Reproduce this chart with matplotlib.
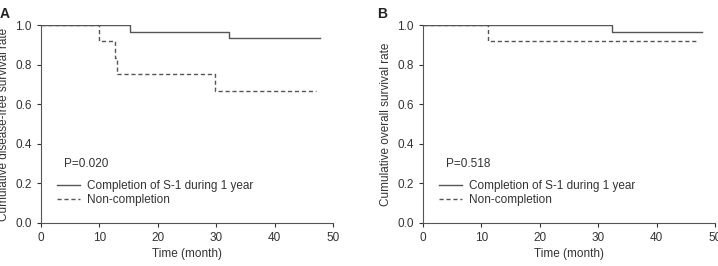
import matplotlib.pyplot as plt

plt.rcParams['font.family'] = ['Liberation Sans', 'DejaVu Sans']
plt.rcParams['font.size'] = 8.5

# A: disease-free survival
a_comp_t = [0, 15.2, 32.1, 47.8]
a_comp_s = [1.0, 0.967, 0.933, 0.933]
a_non_t = [0, 10.0, 12.7, 13.1, 29.8, 47.1]
a_non_s = [1.0, 0.917, 0.833, 0.75, 0.667, 0.667]

# B: overall survival
b_comp_t = [0, 32.3, 47.7]
b_comp_s = [1.0, 0.967, 0.967]
b_non_t = [0, 11.1, 47.0]
b_non_s = [1.0, 0.917, 0.917]

labels = ['Completion of S-1 during 1 year', 'Non-completion']
gray = '#555555'

fig = plt.figure(figsize=(7.18, 2.66), dpi=100)
axA = fig.add_axes([0.057, 0.162, 0.407, 0.744])
axB = fig.add_axes([0.589, 0.162, 0.407, 0.744])

panels = [
    (axA, a_comp_t, a_comp_s, a_non_t, a_non_s, 'Cumulative disease-free survival rate', 'P=0.020', 'A'),
    (axB, b_comp_t, b_comp_s, b_non_t, b_non_s, 'Cumulative overall survival rate', 'P=0.518', 'B'),
]

for ax, ct, cs, nt, ns, ylab, ptxt, letter in panels:
    ax.step(ct, cs, where='post', color=gray, lw=1.0, label=labels[0])
    ax.step(nt, ns, where='post', color=gray, lw=1.0, ls=(0, (3, 2)), label=labels[1])
    ax.set_xlim(0, 50)
    ax.set_ylim(0, 1.0)
    ax.set_xticks(range(0, 51, 10))
    ax.set_yticks([0, 0.2, 0.4, 0.6, 0.8, 1.0])
    ax.set_yticklabels(['0.0', '0.2', '0.4', '0.6', '0.8', '1.0'])
    for s in ['top', 'right']:
        ax.spines[s].set_visible(False)
    for s in ['left', 'bottom']:
        ax.spines[s].set_color(gray)
    ax.tick_params(colors='#333333', length=3, width=0.8, labelcolor='#333333')
    ax.set_xlabel('Time (month)', color='#333333', labelpad=3)
    ax.set_ylabel(ylab, color='#333333', labelpad=4)
    ax.text(3.9, 0.30, ptxt, color='#333333', va='center')
    ax.legend(loc='upper left', bbox_to_anchor=(0.038, 0.24), frameon=False,
              handlelength=2.0, handletextpad=0.6, labelspacing=0.15,
              borderaxespad=0, labelcolor='#333333')
    ax.text(-0.14 if letter == 'A' else -0.155, 1.055, letter, transform=ax.transAxes,
            fontsize=10, fontweight='bold', color='#222222', va='center')

fig.savefig('out.png', dpi=100)
